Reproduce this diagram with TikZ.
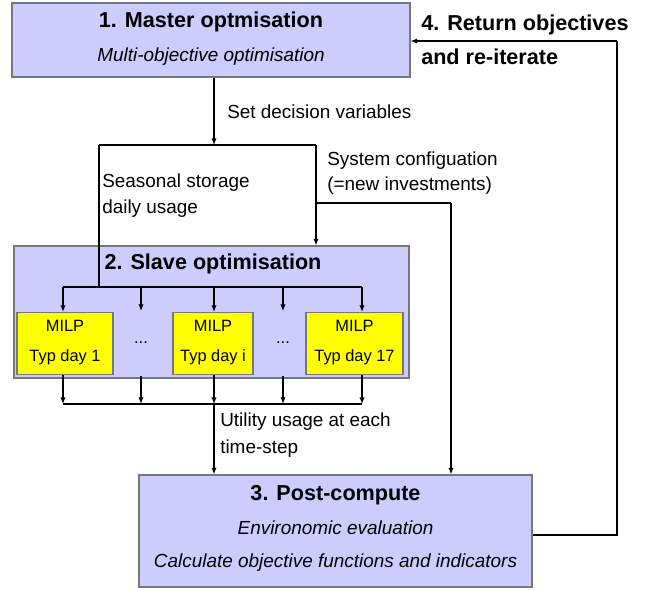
\documentclass[tikz,border=0pt]{standalone}
\usepackage{fontspec}
\setmainfont{Liberation Sans}
\usetikzlibrary{arrows.meta}
\definecolor{lav}{RGB}{204,204,255}
\definecolor{bord}{RGB}{120,120,120}
\definecolor{ylw}{RGB}{255,255,0}
\begin{document}
\begin{tikzpicture}[x=0.75pt,y=-0.75pt,
  bluebox/.style={draw=bord,line width=0.8pt,fill=lav,inner sep=0pt},
  milpbox/.style={draw=bord,line width=0.8pt,fill=ylw,inner sep=0pt,minimum height=46.5pt},
  ttl/.style={font=\fontsize{16.2}{19}\selectfont\bfseries,inner sep=0pt},
  txt/.style={font=\fontsize{14.2}{17}\selectfont,inner sep=0pt},
  itxt/.style={font=\fontsize{14.2}{17}\selectfont\itshape,inner sep=0pt},
  stxt/.style={font=\fontsize{12.3}{15}\selectfont,inner sep=0pt},
  conn/.style={line width=0.9pt},
  arr/.style={line width=0.9pt,-{Latex[length=5pt,width=4pt]}}]
\useasboundingbox (0,0) rectangle (649,590);
% boxes
\node[bluebox,minimum width=298.5pt,minimum height=55.5pt] (master) at (211,40) {};
\node[bluebox,minimum width=296.25pt,minimum height=99pt] (slave) at (211.5,312) {};
\node[milpbox,minimum width=72pt] (m1) at (65,343.5) {};
\node[milpbox,minimum width=60pt] (m2) at (213,343.5) {};
\node[milpbox,minimum width=72.75pt] (m3) at (354.5,343.5) {};
\node[bluebox,minimum width=294.75pt,minimum height=84pt] (post) at (335.5,531) {};
% texts in boxes
\node[ttl] (t1) at (211,22) {1. Master optmisation};
\node[itxt] (t1b) at (211,57) {Multi-objective optimisation};
\node[ttl] (t2) at (213,264) {2. Slave optimisation};
\node[stxt] (m1a) at (m1.center |- 0,326) {MILP};
\node[stxt] (m1b) at (m1.center |- 0,357) {Typ day 1};
\node[stxt] (m2a) at (m2.center |- 0,326) {MILP};
\node[stxt] (m2b) at (m2.center |- 0,357) {Typ day i};
\node[stxt] (m3a) at (m3.center |- 0,326) {MILP};
\node[stxt] (m3b) at (m3.center |- 0,357) {Typ day 17};
\node[stxt] (d1) at (141,343) {...};
\node[stxt] (d2) at (283,343) {...};
\node[ttl] (t3) at (335.5,495) {3. Post-compute};
\node[itxt] (t3b) at (335.5,528) {Environomic evaluation};
\node[itxt] (t3c) at (335.5,563) {Calculate objective functions and indicators};
% side labels
\node[ttl,anchor=west] (r1) at (421,25) {4. Return objectives};
\node[ttl,anchor=west] (r2) at (421,57) {and re-iterate};
\node[txt,anchor=west] (l1) at (227,112) {Set decision variables};
\node[txt,anchor=west] (l2) at (327,161) {System configuation};
\node[txt,anchor=west] (l3) at (327,186) {(=new investments)};
\node[txt,anchor=west] (l4) at (102,183) {Seasonal storage};
\node[txt,anchor=west] (l5) at (102,209) {daily usage};
\node[txt,anchor=west] (l6) at (220,422) {Utility usage at each};
\node[txt,anchor=west] (l7) at (220,449) {time-step};
% junction coordinates
\coordinate (jt) at (214,145);
\coordinate (jl) at (99,145);
\coordinate (jr) at (316,145);
\coordinate (jd) at (99,287);
\coordinate (ja) at (63,287);
\coordinate (jb) at (362,287);
\coordinate (js) at (316,203);
\coordinate (jp) at (451,203);
\coordinate (ba) at (63,404);
\coordinate (bb) at (362,404);
\coordinate (bm) at (214,404);
\coordinate (rr) at (617,535);
\coordinate (rt) at (617,41);
% connectors
\draw[arr] (master.south -| jt) -- (jt);
\draw[conn] (jl) -- (jr);
\draw[conn] (jl) -- (jd);
\draw[arr] (jr) -- (slave.north -| jr);
\draw[conn] (js) -- (jp);
\draw[arr] (jp) -- (post.north -| jp);
\draw[conn] (ja) -- (jb);
\foreach \x/\t in {63/m1,214/m2,362/m3}{
  \draw[arr] (\x,287) -- (\t.north -| \x,0);
  \draw[arr] (\t.south -| \x,0) -- (\x,404);
}
\foreach \x in {141,283}{
  \draw[arr] (\x,287) -- (\x,311);
  \draw[arr] (\x,376) -- (\x,404);
}
\draw[conn] (ba) -- (bb);
\draw[arr] (bm) -- (post.north -| bm);
\draw[conn] (post.east |- rr) -- (rr) -- (rt);
\draw[arr] (rt) -- (master.east |- rt);
\end{tikzpicture}
\end{document}
